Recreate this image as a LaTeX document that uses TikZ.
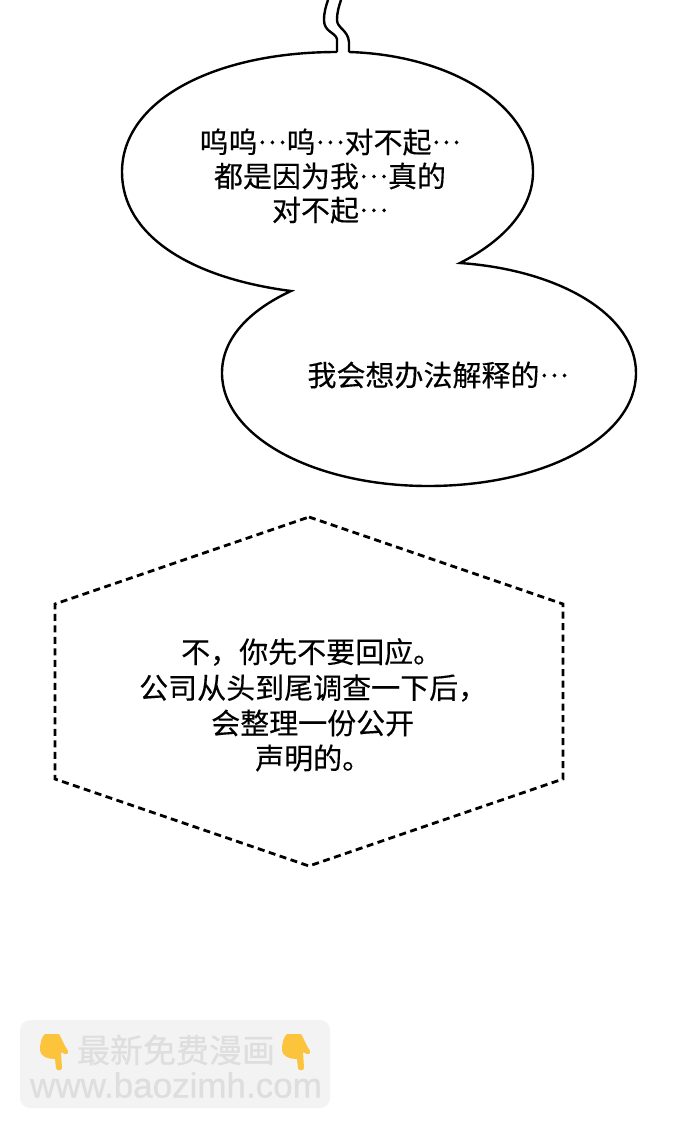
\documentclass[tikz,border=0pt]{standalone}
\usepackage{fontspec}
\newfontfamily\cjk[FakeBold=0.25]{Noto Sans CJK SC}
\newfontfamily\cjkpub[FakeBold=0.6]{Noto Sans CJK SC}
\setmainfont[FakeBold=0.8]{Liberation Sans}
\usepackage{tikz}
\newcommand\points{\makebox[1em][c]{\raisebox{0.31em}{\scalebox{0.93}{…}}}}

\begin{document}
\begin{tikzpicture}[x=1pt, y=-1pt]
\definecolor{badgefond}{HTML}{F3F3F3}
\definecolor{badgetexte}{HTML}{DEDEDE}
\definecolor{doigtjaune}{HTML}{FCC33C}
\tikzset{bubble/.style={draw=black, line width=2.4pt, line join=miter},
  wobble/.style={draw=black, line width=2.4pt, line join=round},
  hexa/.style={draw=black, line width=2.8pt, dash pattern=on 7pt off 4.5pt},
  parole/.style={font=\cjk\fontsize{29}{29}\selectfont, inner sep=0pt, text=black},
  reponse/.style={parole, anchor=west},
  badge/.style={fill=badgefond, rounded corners=10pt},
  pub/.style={inner sep=0pt, text=badgetexte},
  doigt/.pic={\fill[doigtjaune] (-14,-2) .. controls (-14,-8) and (-12,-15) .. (-9,-17)
    -- (5,-17) .. controls (8,-12) and (10,-6) .. (14,0) .. controls (15,2) and (13,4) .. (11,3)
    -- (7,1) -- (8,17) .. controls (8,20) and (2,20) .. (2,17) -- (1,8)
    .. controls (-6,8) and (-14,6) .. (-14,-2) -- cycle;}}
\useasboundingbox (0,0) rectangle (690,1130);
% bulle double
\draw[bubble] (337,52) .. controls (215,52) and (122,100) .. (122,172)
  .. controls (122,235) and (190,278) .. (291,291)
  .. controls (250,310) and (222,338) .. (222,373)
  .. controls (222,437) and (315,486) .. (428,486)
  .. controls (545,486) and (636,437) .. (636,373)
  .. controls (636,315) and (560,270) .. (460,263)
  .. controls (505,240) and (533,208) .. (533,172)
  .. controls (533,105) and (450,55) .. (349,52);
% queue
\draw[wobble] (337,52) -- (337,39) .. controls (335,32) and (324,32) .. (324,20) .. controls (324,12) and (326,6) .. (328,0);
\draw[wobble] (349,52) -- (349,42) .. controls (348,30) and (337,28) .. (337,20) .. controls (337,12) and (339,6) .. (341,0);
% hexagone
\coordinate (H1) at (309,517);
\coordinate (H2) at (563,604);
\coordinate (H3) at (563,779);
\coordinate (H4) at (309,866);
\coordinate (H5) at (55,779);
\coordinate (H6) at (55,604);
\draw[hexa] (H1) -- (H2) -- (H3) -- (H4) -- (H5) -- (H6) -- cycle;
% textes
\node[parole] (L1) at (330,142) {呜呜\points 呜\points 对不起\points};
\node[parole] (L2) at (330,176) {都是因为我\points 真的};
\node[parole] (L3) at (330,210) {对不起\points};
\node[parole] (L4) at (438,375) {我会想办法解释的\points};
\node[reponse] (R1) at (181,652) {不，你先不要回应。};
\node[reponse] (R2) at (139,688) {公司从头到尾调查一下后，};
\node[reponse] (R3) at (211,723) {会整理一份公开};
\node[reponse] (R4) at (255,758) {声明的。};
% badge
\path[badge] (20,1020) rectangle (330,1108);
\node[pub, font=\cjkpub\fontsize{33}{33}\selectfont] (B1) at (176,1050) {最新免费漫画};
\node[pub, font=\fontsize{35}{35}\selectfont] (B2) at (176,1085) {www.baozimh.com};
\pic at (54,1051) {doigt};
\pic at (296,1051) {doigt};
\end{tikzpicture}
\end{document}
